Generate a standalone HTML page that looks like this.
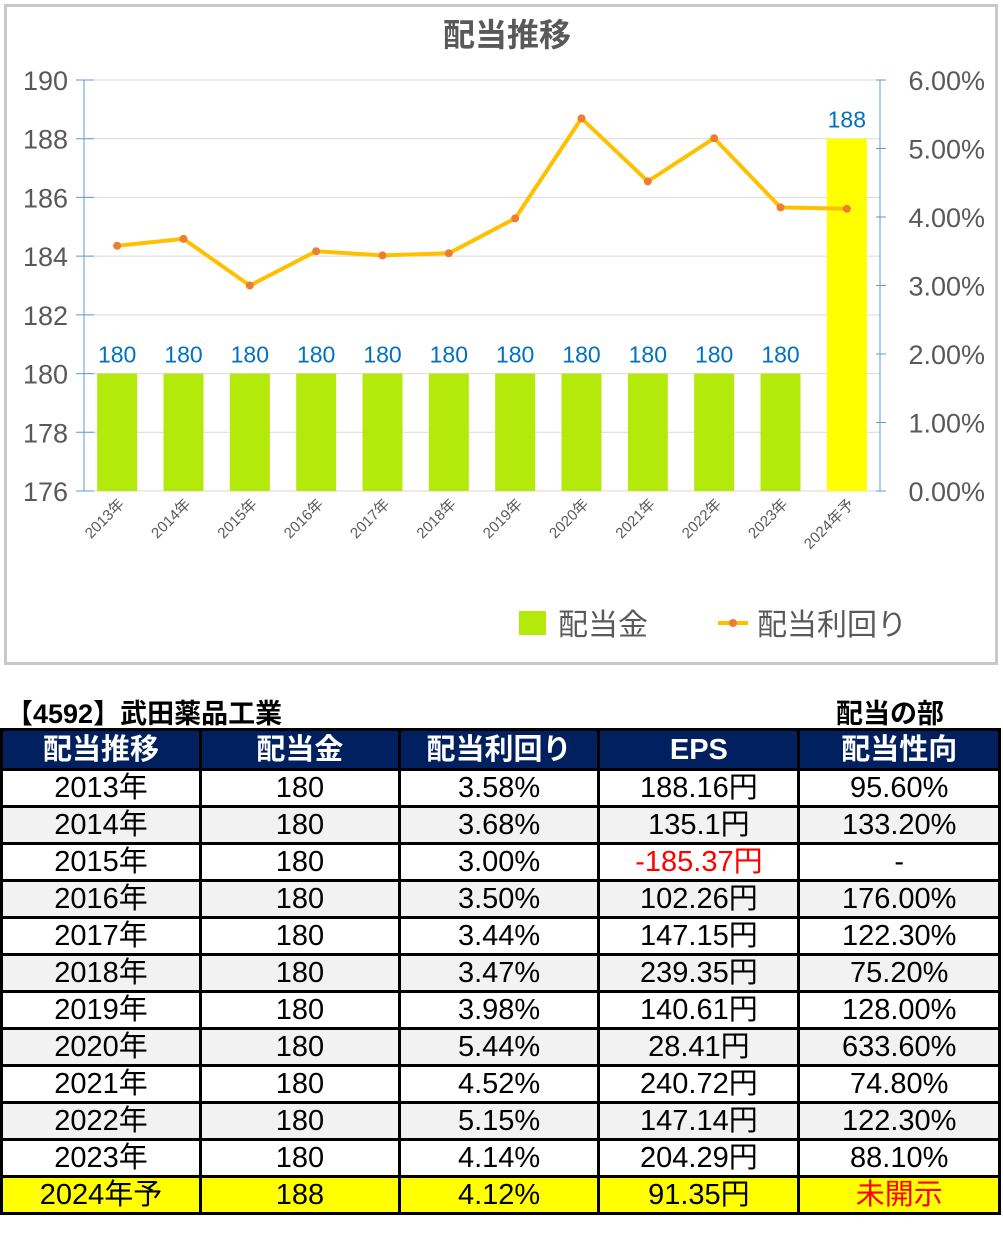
<!DOCTYPE html>
<html><head><meta charset="utf-8">
<style>
body{margin:0;width:1003px;height:1256px;background:#fff;font-family:"Liberation Sans","Noto Sans CJK JP",sans-serif;position:relative;overflow:hidden}
#chartbox{position:absolute;left:4px;top:4px;width:988px;height:655px;border:3px solid #c8c8c8}
svg text{font-family:"Liberation Sans","Noto Sans CJK JP",sans-serif}
.cap{position:absolute;top:692px;font-size:27px;font-weight:bold;color:#000}
table{position:absolute;left:0;top:728px;border-collapse:collapse;width:1001px}
td,th{border:3px solid #000;height:34px;padding:0;text-align:center;font-size:29px;line-height:34px;width:200px}
th{background:#002060;color:#fff;font-weight:bold;height:37px}
tr.g td{background:#f2f2f2}
tr.y td{background:#ffff00}
.red{color:#ff0000}
</style></head><body>
<div id="chartbox"></div>
<svg id="chart" width="1003" height="670" style="position:absolute;left:0;top:0"></svg>
<div class="cap" style="left:6px">【4592】武田薬品工業</div>
<div class="cap" style="left:836px">配当の部</div>
<table>
<tr><th>配当推移</th><th>配当金</th><th>配当利回り</th><th>EPS</th><th>配当性向</th></tr>
<tr><td>2013年</td><td>180</td><td>3.58%</td><td>188.16円</td><td>95.60%</td></tr>
<tr class="g"><td>2014年</td><td>180</td><td>3.68%</td><td>135.1円</td><td>133.20%</td></tr>
<tr><td>2015年</td><td>180</td><td>3.00%</td><td class="red">-185.37円</td><td>-</td></tr>
<tr class="g"><td>2016年</td><td>180</td><td>3.50%</td><td>102.26円</td><td>176.00%</td></tr>
<tr><td>2017年</td><td>180</td><td>3.44%</td><td>147.15円</td><td>122.30%</td></tr>
<tr class="g"><td>2018年</td><td>180</td><td>3.47%</td><td>239.35円</td><td>75.20%</td></tr>
<tr><td>2019年</td><td>180</td><td>3.98%</td><td>140.61円</td><td>128.00%</td></tr>
<tr class="g"><td>2020年</td><td>180</td><td>5.44%</td><td>28.41円</td><td>633.60%</td></tr>
<tr><td>2021年</td><td>180</td><td>4.52%</td><td>240.72円</td><td>74.80%</td></tr>
<tr class="g"><td>2022年</td><td>180</td><td>5.15%</td><td>147.14円</td><td>122.30%</td></tr>
<tr><td>2023年</td><td>180</td><td>4.14%</td><td>204.29円</td><td>88.10%</td></tr>
<tr class="y"><td>2024年予</td><td>188</td><td>4.12%</td><td>91.35円</td><td class="red">未開示</td></tr>
</table>
<script>
const categories=["2013年","2014年","2015年","2016年","2017年","2018年","2019年","2020年","2021年","2022年","2023年","2024年予"];
const dividends=[180,180,180,180,180,180,180,180,180,180,180,188];
const yields=[3.58,3.68,3.00,3.50,3.44,3.47,3.98,5.44,4.52,5.15,4.14,4.12];
const leftTicks=[176,178,180,182,184,186,188,190];
const rightTicks=[0,1,2,3,4,5,6];
const NS="http://www.w3.org/2000/svg";
const svg=document.getElementById('chart');
const X0=84,X1=880,Y0=491,Y1=80;
const bw=(X1-X0)/categories.length;
const xc=i=>X0+bw*(i+0.5);
const yl=v=>Y0-(v-176)/(190-176)*(Y0-Y1);
const yr=v=>Y0-v/6*(Y0-Y1);
function mk(t,a,txt){const e=document.createElementNS(NS,t);for(const k in a)e.setAttribute(k,a[k]);if(txt!==undefined)e.textContent=txt;svg.appendChild(e);return e;}
let t=mk('text',{x:507,y:46,'text-anchor':'middle','font-size':32,'font-weight':'bold',fill:'#595959'},'配当推移');


leftTicks.forEach(v=>{
 const g=mk('line',{x1:X0,x2:X1,y1:yl(v),y2:yl(v),stroke:'#d9d9d9','stroke-width':1});
 
 
 mk('line',{x1:76,x2:X0+10,y1:yl(v),y2:yl(v),stroke:'#5b9bd5','stroke-width':1});
 const l=mk('text',{x:68,y:yl(v)+10,'text-anchor':'end','font-size':27,fill:'#595959'},v);
 
 
});
mk('line',{x1:X0,x2:X0,y1:Y1,y2:Y0,stroke:'#5b9bd5','stroke-width':1});
mk('line',{x1:X1,x2:X1,y1:Y1,y2:Y0,stroke:'#5b9bd5','stroke-width':1});
rightTicks.forEach(v=>{
 mk('line',{x1:X1-4,x2:X1+6,y1:yr(v),y2:yr(v),stroke:'#5b9bd5','stroke-width':1});
 const l=mk('text',{x:985,y:yr(v)+10,'text-anchor':'end','font-size':27,fill:'#595959'},v.toFixed(2)+'%');
 
 
});
dividends.forEach((v,i)=>{
 const last=i===dividends.length-1;
 const r=mk('rect',{x:xc(i)-20,y:yl(v),width:40,height:Y0-yl(v),fill:last?'#ffff00':'#b4e90c'});
 
 
 const l=mk('text',{x:xc(i),y:yl(v)-11,'text-anchor':'middle','font-size':23,fill:'#0070c0'},v);
 
 
 const c=mk('text',{transform:`translate(${xc(i)+8},${Y0+14}) rotate(-45)`,'text-anchor':'end','font-size':15,fill:'#595959'},categories[i]);
 
 
});
const pl=mk('polyline',{points:yields.map((v,i)=>xc(i)+','+yr(v)).join(' '),fill:'none',stroke:'#ffc000','stroke-width':4,'stroke-linejoin':'round'});


yields.forEach((v,i)=>{
 const c=mk('circle',{cx:xc(i),cy:yr(v),r:4,fill:'#ed7d31'});
 
 
});
let lg=mk('rect',{x:519,y:611,width:27,height:24,fill:'#b4e90c'});


lg=mk('text',{x:558,y:635,'font-size':30,fill:'#595959'},'配当金');


mk('line',{x1:718,x2:748,y1:623,y2:623,stroke:'#ffc000','stroke-width':4});
mk('circle',{cx:733,cy:623,r:4,fill:'#ed7d31'});
lg=mk('text',{x:757,y:635,'font-size':30,fill:'#595959'},'配当利回り');


</script>
</body></html>
